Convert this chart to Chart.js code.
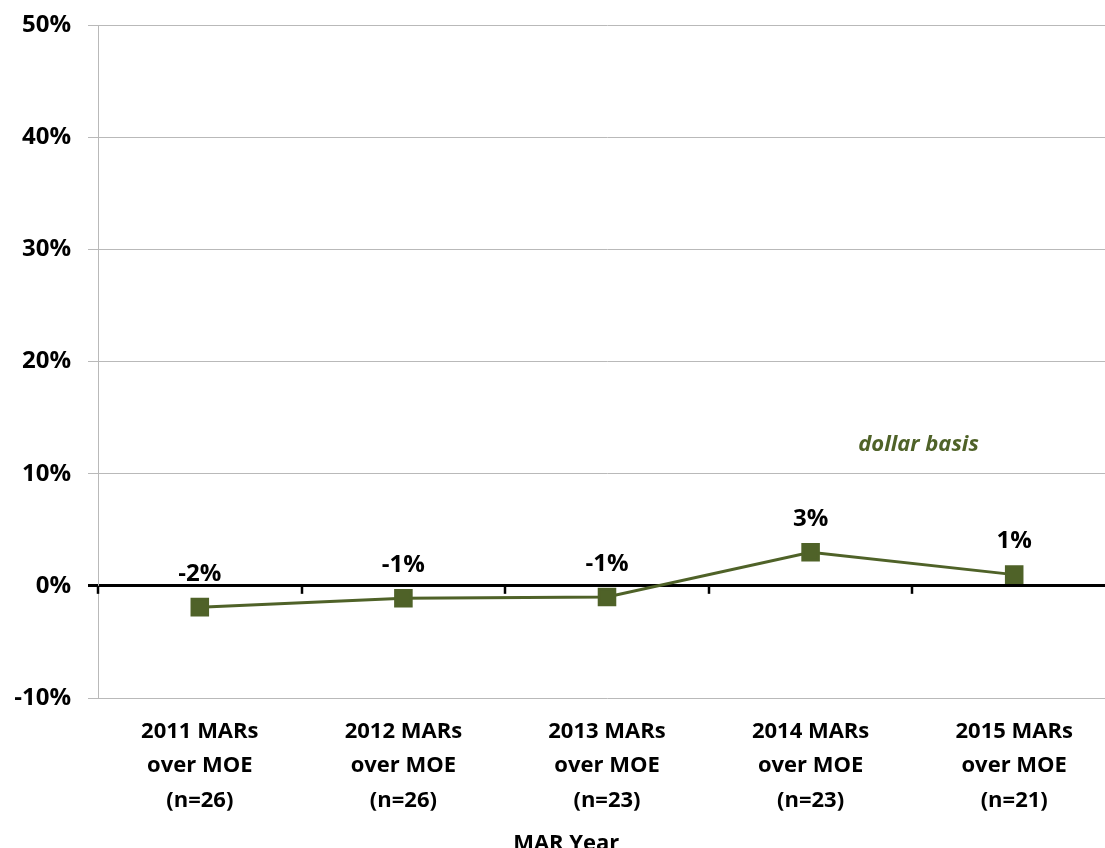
<!DOCTYPE html>
<html>
<head>
<meta charset="utf-8">
<script src="https://cdn.jsdelivr.net/npm/chart.js@4"></script>
<style>
  html, body { margin: 0; padding: 0; background: #fff; overflow: hidden; }
  #wrap { width: 1130px; height: 870px; position: relative; }
</style>
</head>
<body>
<div id="wrap"><canvas id="marChart"></canvas></div>
<script>
// MAR vs MOE, percent difference on a dollar basis
const categories = [
  ['2011 MARs', 'over MOE', '(n=26)'],
  ['2012 MARs', 'over MOE', '(n=26)'],
  ['2013 MARs', 'over MOE', '(n=23)'],
  ['2014 MARs', 'over MOE', '(n=23)'],
  ['2015 MARs', 'over MOE', '(n=21)']
];
const dollarBasis = [-1.9, -1.1, -1.0, 3.0, 1.0];
const yTicks = [-10, 0, 10, 20, 30, 40, 50];

const GREEN = '#4F6228';
const GRID = '#b9b9b9';
const FONT = '"Open Sans", Lato, sans-serif';

// value labels over each point
const pointLabels = {
  id: 'pointLabels',
  afterDatasetsDraw(chart) {
    const { ctx } = chart;
    const meta = chart.getDatasetMeta(0);
    ctx.save();
    ctx.font = `bold 24px ${FONT}`;
    ctx.fillStyle = '#000';
    ctx.textAlign = 'center';
    ctx.textBaseline = 'middle';
    meta.data.forEach((pt, i) => {
      ctx.fillText(Math.round(dollarBasis[i]) + '%', pt.x, pt.y - 33);
    });
    ctx.restore();
  }
};

// short tick marks hanging off the zero line, the series note and the axis title
const zeroTicks = {
  id: 'zeroTicks',
  beforeDatasetsDraw(chart) {
    const { ctx, chartArea, scales: { x, y } } = chart;
    const y0 = y.getPixelForValue(0);
    const half = (x.getPixelForValue(1) - x.getPixelForValue(0)) / 2;
    ctx.save();
    ctx.strokeStyle = '#000';
    ctx.lineWidth = 2.5;
    for (let i = 0; i <= categories.length; i++) {
      const px = Math.round(x.getPixelForValue(i) - half);
      ctx.beginPath();
      ctx.moveTo(px, y0);
      ctx.lineTo(px, y0 + 8);
      ctx.stroke();
    }
    ctx.textAlign = 'center';
    ctx.textBaseline = 'middle';
    ctx.font = `italic bold 22px ${FONT}`;
    ctx.fillStyle = GREEN;
    ctx.fillText('dollar basis', x.getPixelForValue(3.53), y.getPixelForValue(12.6));
    ctx.font = `bold 22px ${FONT}`;
    ctx.fillStyle = '#000';
    ctx.fillText('MAR Year', x.getPixelForValue(1.8), chartArea.bottom + 146);
    ctx.restore();
  }
};

const ctx = document.getElementById('marChart').getContext('2d');
new Chart(ctx, {
  type: 'line',
  data: {
    labels: categories,
    datasets: [{
      label: 'dollar basis',
      data: dollarBasis,
      borderColor: GREEN,
      backgroundColor: GREEN,
      borderWidth: 3,
      pointStyle: 'rect',
      pointRadius: 11,
      pointHoverRadius: 11,
      tension: 0,
      clip: false
    }]
  },
  options: {
    responsive: true,
    maintainAspectRatio: false,
    animation: false,
    layout: { padding: { top: 25, right: 12, left: 0, bottom: 0 } },
    plugins: {
      legend: { display: false },
      tooltip: { enabled: false }
    },
    scales: {
      x: {
        type: 'category',
        offset: true,
        grid: { display: false, drawTicks: false },
        border: { display: false },
        ticks: {
          color: '#000',
          font: { family: FONT, size: 22, weight: 700, lineHeight: 1.55 },
          padding: 17,
          maxRotation: 0,
          autoSkip: false
        },
        afterFit(scale) { scale.height = 172; }
      },
      y: {
        min: -10,
        max: 50,
        afterBuildTicks(scale) { scale.ticks = yTicks.map(v => ({ value: v })); },
        grid: {
          color: c => c.tick && c.tick.value === 0 ? '#000' : GRID,
          lineWidth: c => c.tick && c.tick.value === 0 ? 3 : 1,
          tickColor: c => c.tick && c.tick.value === 0 ? '#000' : GRID,
          tickWidth: c => c.tick && c.tick.value === 0 ? 3 : 1,
          tickLength: 10
        },
        border: { display: true, color: GRID, width: 1 },
        ticks: {
          color: '#000',
          font: { family: FONT, size: 24, weight: 700 },
          padding: 17,
          callback: v => v + '%'
        },
        afterFit(scale) {
          scale.width = 98;
          scale.paddingTop = 0;
          scale.paddingBottom = 0;
        }
      }
    }
  },
  plugins: [zeroTicks, pointLabels]
});
</script>
</body>
</html>
